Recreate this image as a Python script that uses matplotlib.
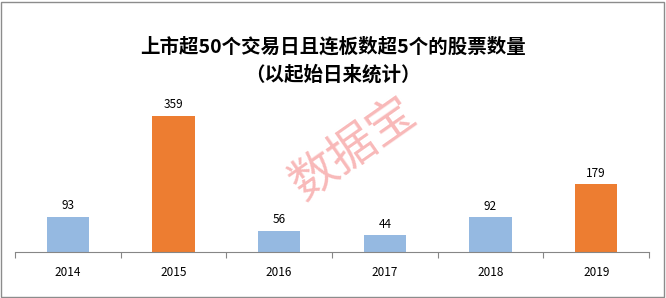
import numpy as np
import matplotlib.pyplot as plt
from matplotlib.patches import Rectangle

plt.rcParams['font.family'] = ['Noto Sans CJK SC', 'DejaVu Sans']

years = ["2014", "2015", "2016", "2017", "2018", "2019"]
counts = [93, 359, 56, 44, 92, 179]
colors = ["#95B9E1", "#ED7D31", "#95B9E1", "#95B9E1", "#95B9E1", "#ED7D31"]

fig = plt.figure(figsize=(6.66, 2.98), dpi=100)
ax = fig.add_axes([0.0225, 0.154, 0.952, 0.51])

x = np.arange(len(years))
ax.bar(x, counts, width=0.4, color=colors)

for i in range(len(years)):
    ax.text(x[i], counts[i] + 12, str(counts[i]), ha="center", va="bottom", fontsize=8.5)

ax.set_xlim(-0.5, len(years) - 0.5)
ax.set_ylim(0, 400)

for s in ["top", "right", "left"]:
    ax.spines[s].set_visible(False)
ax.spines["bottom"].set_color("#868686")
ax.spines["bottom"].set_linewidth(0.8)

ax.set_yticks([])
ax.set_xticks(np.arange(-0.5, len(years), 1.0))
ax.set_xticklabels([])
ax.tick_params(axis="x", length=4, color="#868686", width=0.8)
for i in range(len(years)):
    ax.text(x[i], -54, years[i], ha="center", va="center", fontsize=8.5)

fig.text(0.5, 0.842, "上市超50个交易日且连板数超5个的股票数量", ha="center", va="center",
         fontsize=14, fontweight="bold")
fig.text(0.5, 0.748, "（以起始日来统计）", ha="center", va="center",
         fontsize=14, fontweight="bold")

# watermark
fig.text(0.53, 0.5, "数据宝", ha="center", va="center", fontsize=34,
         color="#F48A8A", alpha=0.6, rotation=35)

fig.patches.append(Rectangle((0.002, 0.004), 0.995, 0.99, transform=fig.transFigure,
                             fill=False, edgecolor="#8c8c8c", linewidth=1))

fig.savefig("out.png", dpi=100)
